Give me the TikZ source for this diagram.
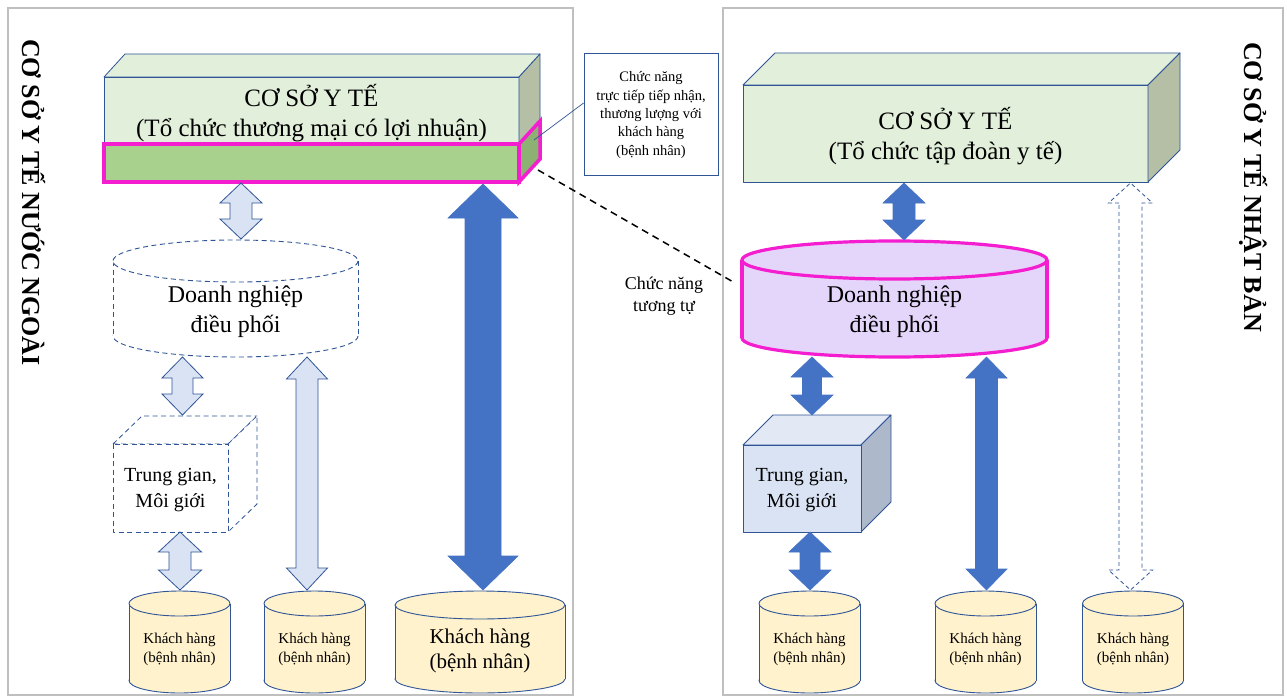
\documentclass[tikz,border=0pt]{standalone}
\usepackage{fontspec}
\setmainfont{Liberation Serif}
\definecolor{frame}{HTML}{BFBFBF}
\definecolor{bline}{HTML}{2F5597}
\definecolor{boxfront}{HTML}{E2EFDA}
\definecolor{boxside}{HTML}{B4BFA6}
\definecolor{band}{HTML}{A9D18E}
\definecolor{bandside}{HTML}{8DB073}
\definecolor{mag}{HTML}{F41ED0}
\definecolor{darkarrow}{HTML}{4472C4}
\definecolor{lightarrow}{HTML}{DAE3F3}
\definecolor{cust}{HTML}{FFF2CC}
\definecolor{lav}{HTML}{E4D6FA}
\definecolor{cubefront}{HTML}{DAE3F3}
\definecolor{cubetop}{HTML}{E3E9F4}
\definecolor{cubeside}{HTML}{ADB9CA}
\newcommand{\vdarrow}[7]{%
 \draw[#1] ({#2-#5},{#3+#7}) -- ({#2-#6},{#3+#7}) -- (#2,#3) -- ({#2+#6},{#3+#7}) -- ({#2+#5},{#3+#7}) -- ({#2+#5},{#4-#7}) -- ({#2+#6},{#4-#7}) -- (#2,#4) -- ({#2-#6},{#4-#7}) -- ({#2-#5},{#4-#7}) -- cycle;}
\newcommand{\mycyl}[6]{%
 \pgfmathsetmacro\cyT{#3+#6}\pgfmathsetmacro\cyB{#4-#6}%
 \pgfmathsetmacro\cyL{#2-#5}\pgfmathsetmacro\cyR{#2+#5}%
 \draw[#1] (#2,\cyB) ellipse ({#5} and {#6});
 \path[#1,draw=none] (\cyL,\cyT) rectangle (\cyR,\cyB);
 \draw[#1,fill=none] (\cyL,\cyT) -- (\cyL,\cyB) (\cyR,\cyT) -- (\cyR,\cyB);
 \draw[#1] (#2,\cyT) ellipse ({#5} and {#6});}
\begin{document}
\begin{tikzpicture}[x=1pt,y=-1pt,
  panel/.style={draw=frame,line width=1.3pt},
  face/.style={draw=bline,line width=0.8pt,line join=round},
  magline/.style={draw=mag,line width=3.5pt,line join=miter},
  darr/.style={fill=darkarrow,draw=darkarrow,line width=0.6pt,line join=miter},
  larr/.style={fill=lightarrow,draw=bline,line width=0.8pt,line join=miter},
  dasharr/.style={fill=white,draw=bline,line width=0.8pt,dash pattern=on 4pt off 3pt,line join=miter},
  custcyl/.style={fill=cust,draw=bline,line width=0.9pt},
  dashcyl/.style={fill=white,draw=bline,line width=0.9pt,dash pattern=on 5pt off 3.5pt},
  pinkcyl/.style={fill=lav,draw=mag,line width=3.2pt},
  title/.style={font=\fontsize{26}{30}\selectfont\bfseries,rotate=-90,anchor=west,inner sep=0pt},
  bigtxt/.style={font=\fontsize{25}{30}\selectfont,align=center,inner sep=0pt},
  midtxt/.style={font=\fontsize{24}{30}\selectfont,align=center,inner sep=0pt},
  cubetxt/.style={font=\fontsize{20}{26}\selectfont,align=center,inner sep=0pt},
  smalltxt/.style={font=\fontsize{15}{19}\selectfont,align=center,inner sep=0pt},
  custbig/.style={font=\fontsize{21}{25}\selectfont,align=center,inner sep=0pt},
  calltxt/.style={font=\fontsize{14.5}{18.3}\selectfont,align=center,inner sep=0pt}]
\useasboundingbox (0,0) rectangle (1287,698);
\fill[white] (0,0) rectangle (1287,698);
% panels
\draw[panel] (8,8) rectangle (573,695);
\draw[panel] (723,8) rectangle (1283,695);
\node[title] (tl) at (34,39) {CƠ SỞ Y TẾ NƯỚC NGOÀI};
\node[title] (tr) at (1254,42) {CƠ SỞ Y TẾ NHẬT BẢN};
% left top box
\draw[face,fill=boxfront] (104,77) -- (125,54) -- (540,54) -- (519,77) -- cycle;
\draw[face,fill=boxfront] (104,77) rectangle (519,144);
\draw[face,fill=boxside] (519,77) -- (540,54) -- (540,121) -- (519,144) -- cycle;
\draw[magline,fill=band] (104,144) rectangle (519,182);
\draw[magline,fill=bandside] (519,144) -- (540,121) -- (540,159) -- (519,182) -- cycle;
\node[bigtxt] (lbox) at (311.5,113) {CƠ SỞ Y TẾ\\(Tổ chức thương mại có lợi nhuận)};
% callout
\node[draw=bline,line width=0.8pt,minimum width=134pt,minimum height=122pt,inner sep=0pt] (call) at (651,114) {};
\node[calltxt] (calltext) at (651,115) {Chức năng\\trực tiếp tiếp nhận,\\thương lượng với\\khách hàng\\(bệnh nhân)};
\coordinate (callend) at (534,140);
\draw[draw=bline,line width=0.7pt] (call.west |- 0,103) -- (callend);
% dashed link
\coordinate (dl1) at (538,170);
\coordinate (dl2) at (735,283);
\draw[black,line width=1.5pt,dash pattern=on 7pt off 5pt] (dl1) -- (dl2);
\node[font=\fontsize{18}{22}\selectfont,align=center,inner sep=0pt] (sim) at (664,296) {Chức năng\\tương tự};
% right top box
\draw[face,fill=boxfront] (743,85) -- (775,53) -- (1180,53) -- (1148,85) -- cycle;
\draw[face,fill=boxfront] (743,85) rectangle (1148,182);
\draw[face,fill=boxside] (1148,85) -- (1180,53) -- (1180,150) -- (1148,182) -- cycle;
\node[bigtxt] (rbox) at (945.5,136) {CƠ SỞ Y TẾ\\(Tổ chức tập đoàn y tế)};
% left coordinator (dashed cylinder)
\mycyl{dashcyl}{235.5}{240}{357}{122.5}{21}
\node[midtxt] (lcoord) at (235.5,312) {Doanh nghiệp\\điều phối};
% right coordinator (pink cylinder)
\mycyl{pinkcyl}{894.5}{241}{357}{152.5}{19}
\node[midtxt] (rcoord) at (894.5,312) {Doanh nghiệp\\điều phối};
% left dashed cube
\draw[face,fill=white,dash pattern=on 5pt off 3.5pt] (113,444) -- (142,416) -- (257,416) -- (228,444) -- cycle;
\draw[face,fill=white,dash pattern=on 5pt off 3.5pt] (228,444) -- (257,416) -- (257,504) -- (228,532) -- cycle;
\draw[face,fill=white,dash pattern=on 5pt off 3.5pt] (113,444) rectangle (228,532);
\node[cubetxt] (lcube) at (170.5,490) {Trung gian,\\Môi giới};
% right cube
\draw[face,fill=cubetop] (743,445) -- (773,415) -- (891,415) -- (861,445) -- cycle;
\draw[face,fill=cubeside] (861,445) -- (891,415) -- (891,502) -- (861,532) -- cycle;
\draw[face,fill=cubefront] (743,445) rectangle (861,532);
\node[cubetxt] (rcube) at (802,490) {Trung gian,\\Môi giới};
% customers
\mycyl{custcyl}{179.5}{591}{693}{50.5}{12.5}
\node[smalltxt] (lc1) at (179.5,649.5) {Khách hàng\\(bệnh nhân)};
\mycyl{custcyl}{314.5}{591}{693}{50.5}{12.5}
\node[smalltxt] (lc2) at (314.5,649.5) {Khách hàng\\(bệnh nhân)};
\mycyl{custcyl}{480}{591}{693}{85}{14}
\node[custbig] (lc3) at (480,650.5) {Khách hàng\\(bệnh nhân)};
\mycyl{custcyl}{809.5}{591}{693}{50.5}{12.5}
\node[smalltxt] (rc1) at (809.5,649.5) {Khách hàng\\(bệnh nhân)};
\mycyl{custcyl}{985.5}{591}{693}{50.5}{12.5}
\node[smalltxt] (rc2) at (985.5,649.5) {Khách hàng\\(bệnh nhân)};
\mycyl{custcyl}{1133}{591}{693}{50.5}{12.5}
\node[smalltxt] (rc3) at (1133,649.5) {Khách hàng\\(bệnh nhân)};
% arrows left
\vdarrow{larr}{241}{183}{239}{11}{21}{20}
\vdarrow{larr}{182.5}{357}{415}{10.5}{20.5}{21}
\vdarrow{larr}{180}{532}{590}{11}{21.5}{20}
\vdarrow{larr}{307}{357}{590}{11}{20.5}{22}
\vdarrow{darr}{483}{184}{590}{18}{35}{34}
% arrows right
\vdarrow{darr}{904}{183}{240}{11}{21}{20}
\vdarrow{darr}{812}{357}{415}{9.5}{21}{20}
\vdarrow{darr}{810}{532}{590}{10}{21}{20}
\vdarrow{darr}{986.5}{357}{590}{11}{20.5}{21}
\vdarrow{dasharr}{1130.5}{183}{590}{11.5}{22}{20}
\end{tikzpicture}
\end{document}
